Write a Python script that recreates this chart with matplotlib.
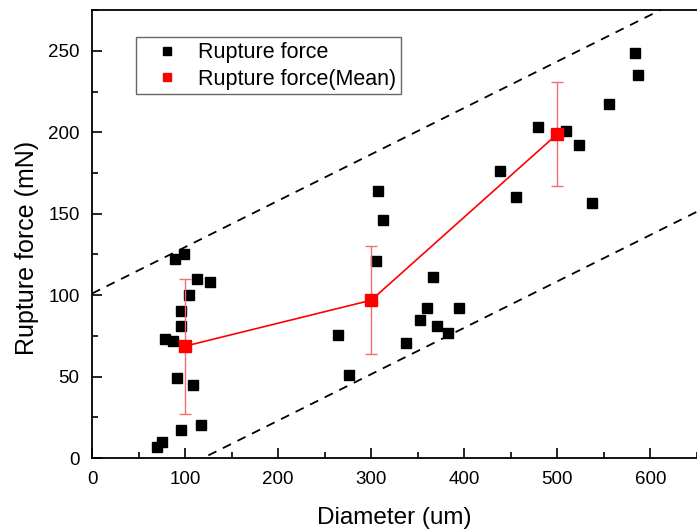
import numpy as np
import matplotlib
matplotlib.use('Agg')
import matplotlib.pyplot as plt
from matplotlib.ticker import MultipleLocator

plt.rcParams['font.family'] = ['Liberation Sans', 'DejaVu Sans']

# individual measurements
diam = [70, 75, 96, 117.5, 91, 108, 78, 87, 95.7, 95.4, 104.7, 113, 127, 89.7, 99,
        264.7, 276.5, 305, 307, 313, 337, 352.6, 360, 366, 371, 383, 394,
        438.7, 456, 479.4, 509, 523, 537, 555, 583.4, 586.3]
force = [6.6, 9.8, 17, 20, 49, 45, 72.8, 72, 81, 90, 100, 110, 108, 122, 125,
         75.3, 51, 120.7, 164, 146, 70.4, 84.5, 92, 111, 81, 76.7, 92,
         176.5, 160, 203.4, 200.5, 192, 156.6, 217.4, 248.6, 235.4]

# group means
mean_diam = [100, 300, 500]
mean_force = [68.7, 96.9, 199]
mean_err = [41.5, 33, 32]

# bounding lines
band_slope = 0.285
band_upper = 101
band_lower = -34

fig = plt.figure(figsize=(6.97, 5.32), dpi=100)
ax = fig.add_axes([0.132, 0.139, 0.868, 0.842])

xs = np.array([0, 650])
ax.plot(xs, band_slope * xs + band_upper, color='black', lw=1.3, ls=(0, (5, 4)))
ax.plot(xs, band_slope * xs + band_lower, color='black', lw=1.3, ls=(0, (5, 4)))

ax.plot(diam, force, 's', color='black', ms=7.3, mec='black', label='Rupture force')

ax.errorbar(mean_diam, mean_force, yerr=mean_err, fmt='none', ecolor='#f07070',
            elinewidth=1.0, capsize=4.5, capthick=1.0)
ax.plot(mean_diam, mean_force, '-', color='red', lw=1.2)
ax.plot(mean_diam, mean_force, 's', color='red', ms=8, label='Rupture force(Mean)')

ax.set_xlim(0, 650)
ax.set_ylim(0, 275)
ax.xaxis.set_major_locator(MultipleLocator(100))
ax.xaxis.set_minor_locator(MultipleLocator(50))
ax.yaxis.set_major_locator(MultipleLocator(50))
ax.yaxis.set_minor_locator(MultipleLocator(25))
ax.tick_params(which='both', direction='in', width=1.2, labelsize=13.5)
ax.tick_params(which='major', length=7)
ax.tick_params(which='minor', length=4)
ax.tick_params(axis='x', which='major', pad=9)
ax.tick_params(axis='y', which='major', pad=9)
for s in ['left', 'bottom', 'top']:
    ax.spines[s].set_linewidth(1.3)
ax.spines['right'].set_visible(False)

ax.set_xlabel('Diameter (um)', fontsize=17.5, labelpad=14)
ax.set_ylabel('Rupture force (mN)', fontsize=18)
ax.yaxis.set_label_coords(-0.088, 0.47)

leg = ax.legend(loc='upper left', bbox_to_anchor=(0.072, 0.939), borderaxespad=0,
                fontsize=15.5, frameon=True, fancybox=False, edgecolor='#404040',
                handletextpad=0.2, borderpad=0.22, labelspacing=0.25,
                handlelength=2.5, markerscale=0.8)
leg.get_frame().set_linewidth(1.0)

fig.savefig('out.png', dpi=100)
